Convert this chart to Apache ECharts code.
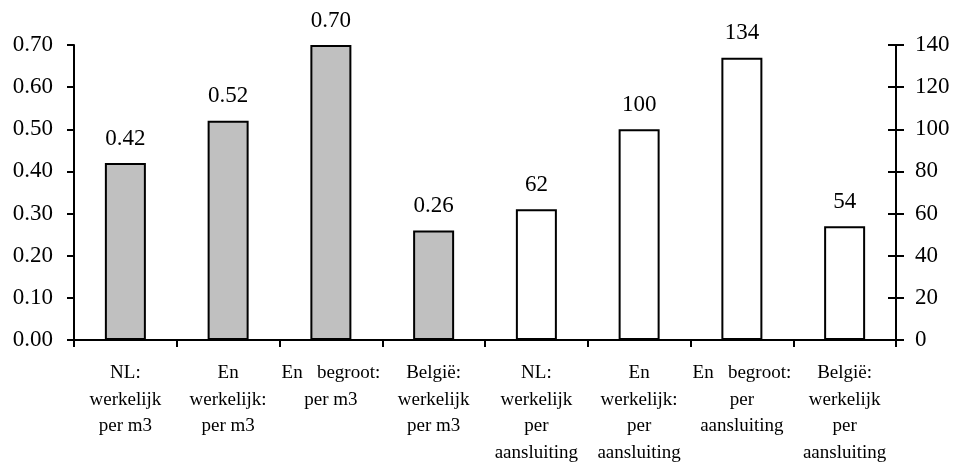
<!DOCTYPE html>
<html>
<head>
<meta charset="utf-8">
<script src="https://cdn.jsdelivr.net/npm/echarts@6/dist/echarts.min.js"></script>
<style>
  html, body { margin: 0; padding: 0; background: #fff; }
  #chart { width: 956px; height: 466px; }
</style>
</head>
<body>
<div id="chart"></div>
<script>
// Category labels (multi-line, as printed under the axis)
const categories = [
  'NL:\nwerkelijk\nper m3',
  'En\nwerkelijk:\nper m3',
  'En   begroot:\nper m3',
  'België:\nwerkelijk\nper m3',
  'NL:\nwerkelijk\nper\naansluiting',
  'En\nwerkelijk:\nper\naansluiting',
  'En   begroot:\nper\naansluiting',
  'België:\nwerkelijk\nper\naansluiting'
];

// Costs per m3 (left axis) and per connection (right axis)
const perM3 = [0.42, 0.52, 0.70, 0.26, null, null, null, null];
const perAansluiting = [null, null, null, null, 62, 100, 134, 54];

// Axis ranges and steps
const leftMax = 0.7, leftStep = 0.1;
const rightMax = 140, rightStep = 20;

const serif = '"Liberation Serif", "Times New Roman", serif';
const black = '#000';

const chart = echarts.init(document.getElementById('chart'), null, { renderer: 'canvas' });

const valueLabel = (digits) => ({
  show: true,
  position: 'top',
  distance: 13,
  color: black,
  fontFamily: serif,
  fontSize: 23,
  formatter: (p) => p.value == null ? '' : Number(p.value).toFixed(digits)
});

chart.setOption({
  animation: false,
  backgroundColor: '#fff',
  grid: { left: 74, right: 60, top: 45, bottom: 122, containLabel: false },
  xAxis: {
    type: 'category',
    data: categories,
    boundaryGap: true,
    axisLine: { lineStyle: { color: black, width: 2 } },
    axisTick: { show: true, length: 7, lineStyle: { color: black, width: 2 } },
    axisLabel: {
      interval: 0,
      margin: 20,
      color: black,
      fontFamily: serif,
      fontSize: 19,
      lineHeight: 26.5,
      align: 'center'
    },
    splitLine: { show: false }
  },
  yAxis: [
    {
      type: 'value',
      position: 'left',
      min: 0, max: leftMax, interval: leftStep,
      axisLine: { show: true, lineStyle: { color: black, width: 2 } },
      axisTick: { show: true, length: 7, lineStyle: { color: black, width: 2 } },
      axisLabel: {
        margin: 21, color: black, fontFamily: serif, fontSize: 23,
        formatter: (v) => v.toFixed(2)
      },
      splitLine: { show: false }
    },
    {
      type: 'value',
      position: 'right',
      min: 0, max: rightMax, interval: rightStep,
      axisLine: { show: true, lineStyle: { color: black, width: 2 } },
      axisTick: { show: true, length: 8, lineStyle: { color: black, width: 2 } },
      axisLabel: { margin: 19, color: black, fontFamily: serif, fontSize: 23 },
      splitLine: { show: false }
    },
    {
      // inner half of the crossing ticks on the right axis
      type: 'value',
      position: 'right',
      min: 0, max: rightMax, interval: rightStep,
      axisLine: { show: false },
      axisTick: { show: true, inside: true, length: 8, lineStyle: { color: black, width: 2 } },
      axisLabel: { show: false },
      splitLine: { show: false }
    }
  ],
  series: [
    {
      name: 'per m3',
      type: 'bar',
      yAxisIndex: 0,
      data: perM3,
      barWidth: 41,
      barGap: '-100%',
      itemStyle: { color: '#c0c0c0', borderColor: black, borderWidth: 2 },
      label: valueLabel(2)
    },
    {
      name: 'per aansluiting',
      type: 'bar',
      yAxisIndex: 1,
      data: perAansluiting,
      barWidth: 41,
      barGap: '-100%',
      itemStyle: { color: '#fff', borderColor: black, borderWidth: 2 },
      label: valueLabel(0)
    }
  ]
});
</script>
</body>
</html>
